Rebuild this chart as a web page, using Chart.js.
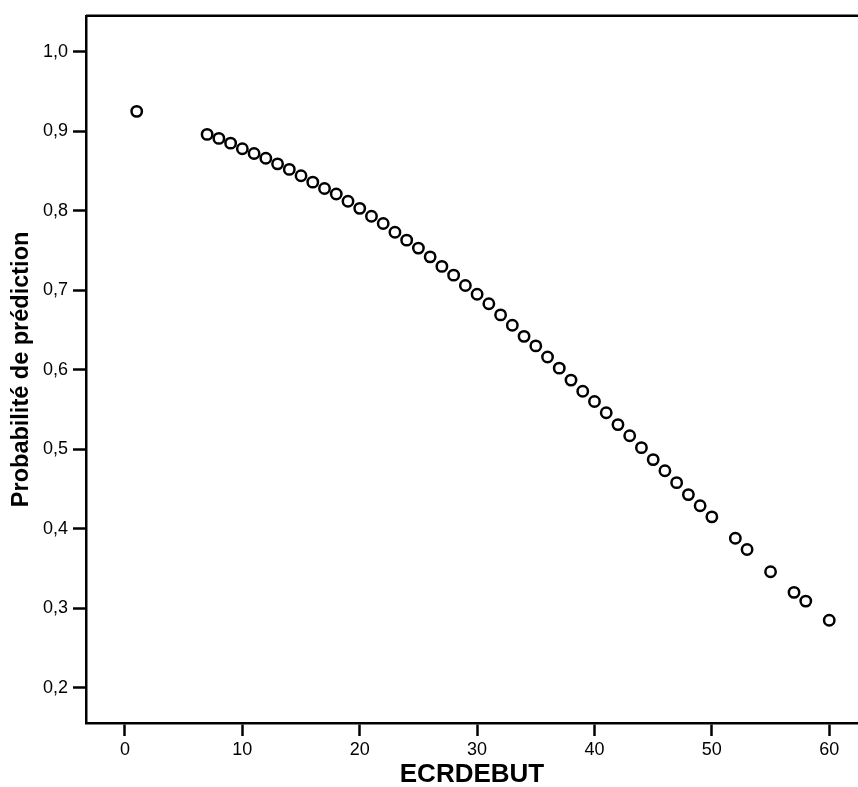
<!DOCTYPE html>
<html>
<head>
<meta charset="utf-8">
<script src="https://cdn.jsdelivr.net/npm/chart.js@4"></script>
<style>
  body { margin: 0; background: #fff; }
  #wrap { width: 858px; height: 787px; }
</style>
</head>
<body>
<div id="wrap"><canvas id="chart" width="858" height="787"></canvas></div>
<script>
// ECRDEBUT values and predicted probability
const ecrdebut = [1, 7, 8, 9, 10, 11, 12, 13, 14, 15, 16, 17, 18, 19, 20, 21, 22, 23, 24, 25,
    26, 27, 28, 29, 30, 31, 32, 33, 34, 35, 36, 37, 38, 39, 40, 41, 42, 43, 44, 45,
    46, 47, 48, 49, 50, 52, 53, 55, 57, 58, 60];
const probabilite = [0.925, 0.896, 0.891, 0.885, 0.878, 0.872, 0.866, 0.859, 0.852, 0.844,
    0.836, 0.828, 0.821, 0.812, 0.803, 0.793, 0.784, 0.773, 0.763, 0.753,
    0.742, 0.730, 0.719, 0.706, 0.695, 0.683, 0.669, 0.656, 0.642, 0.630,
    0.616, 0.602, 0.587, 0.573, 0.560, 0.546, 0.531, 0.517, 0.502, 0.487,
    0.473, 0.458, 0.443, 0.429, 0.415, 0.388, 0.374, 0.346, 0.320, 0.309, 0.285];
const xTicks = [0, 10, 20, 30, 40, 50, 60];
const yTicks = [0.2, 0.3, 0.4, 0.5, 0.6, 0.7, 0.8, 0.9, 1.0];

const points = ecrdebut.map((x, i) => ({ x: x, y: probabilite[i] }));

const fam = 'Arial, "Liberation Sans", sans-serif';
const tickFont = { family: fam, size: 18 };

// top frame line of the plot box
const topLine = {
    id: 'topLine',
    afterDraw(chart) {
        const a = chart.chartArea;
        const c = chart.ctx;
        c.save();
        c.strokeStyle = '#000';
        c.lineWidth = 2.5;
        c.beginPath();
        c.moveTo(a.left, a.top);
        c.lineTo(a.right, a.top);
        c.stroke();
        c.restore();
    }
};

new Chart(document.getElementById('chart'), {
    type: 'scatter',
    data: {
        datasets: [{
            data: points,
            pointRadius: 5.2,
            pointBorderWidth: 2.5,
            pointBorderColor: '#000',
            pointBackgroundColor: '#fff',
            pointHoverRadius: 5.2
        }]
    },
    options: {
        responsive: false,
        animation: false,
        layout: { autoPadding: false, padding: { top: 14, right: 0, left: 0, bottom: 0 } },
        plugins: { legend: { display: false }, tooltip: { enabled: false } },
        scales: {
            x: {
                type: 'linear',
                min: -3.32,
                max: 62.45,
                afterBuildTicks: s => { s.ticks = xTicks.map(v => ({ value: v })); },
                afterFit: s => { s.height = 64; s.paddingLeft = 0; s.paddingRight = 0; },
                grid: { drawOnChartArea: false, tickLength: 13, tickWidth: 2.5, tickColor: '#000' },
                border: { color: '#000', width: 2.5 },
                ticks: { color: '#000', font: tickFont, padding: 3, maxRotation: 0 },
                title: {
                    display: true, text: 'ECRDEBUT', color: '#000',
                    font: { family: fam, size: 26, weight: 'bold', lineHeight: 0.9 },
                    padding: { top: 0, bottom: 0 }
                }
            },
            y: {
                min: 0.1557,
                max: 1.0452,
                afterBuildTicks: s => { s.ticks = yTicks.map(v => ({ value: v })); },
                afterFit: s => { s.width = 86; },
                grid: { drawOnChartArea: false, tickLength: 13, tickWidth: 2.5, tickColor: '#000' },
                border: { color: '#000', width: 2.5 },
                ticks: {
                    color: '#000', font: tickFont, padding: 5,
                    callback: v => v.toFixed(1).replace('.', ',')
                },
                title: {
                    display: true, text: 'Probabilité de prédiction', color: '#000',
                    font: { family: fam, size: 23.5, weight: 'bold' },
                    padding: { top: 7.5, bottom: 0 }
                }
            }
        }
    },
    plugins: [topLine]
});
</script>
</body>
</html>
